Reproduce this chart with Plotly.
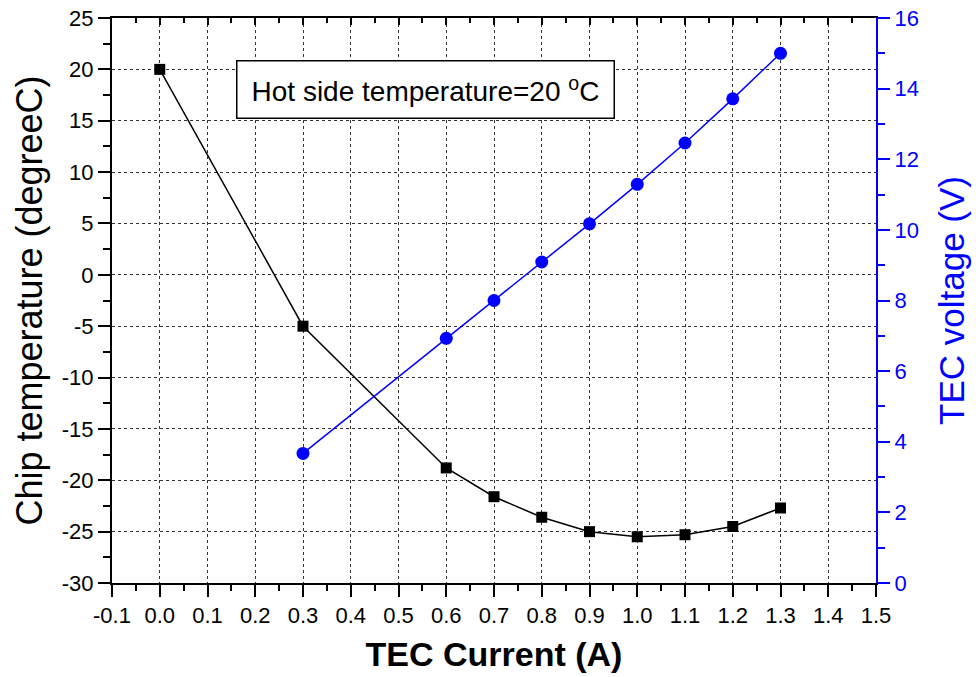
import plotly.graph_objects as go

current_temp = [0.0, 0.3, 0.6, 0.7, 0.8, 0.9, 1.0, 1.1, 1.2, 1.3]
chip_temp = [20.0, -5.0, -18.8, -21.6, -23.6, -25.0, -25.5, -25.3, -24.5, -22.7]

current_volt = [0.3, 0.6, 0.7, 0.8, 0.9, 1.0, 1.1, 1.2, 1.3]
tec_voltage = [3.67, 6.93, 8.0, 9.09, 10.17, 11.29, 12.46, 13.71, 15.0]

x_ticks = [-0.1, 0.0, 0.1, 0.2, 0.3, 0.4, 0.5, 0.6, 0.7, 0.8, 0.9, 1.0, 1.1, 1.2, 1.3, 1.4, 1.5]
x_labels = ["-0.1", "0.0", "0.1", "0.2", "0.3", "0.4", "0.5", "0.6", "0.7", "0.8",
            "0.9", "1.0", "1.1", "1.2", "1.3", "1.4", "1.5"]
y_ticks = [-30, -25, -20, -15, -10, -5, 0, 5, 10, 15, 20, 25]
y_labels = ["-30", "-25", "-20", "-15", "-10", "-5", "0", "5", "10", "15", "20", "25"]
y2_ticks = [0, 2, 4, 6, 8, 10, 12, 14, 16]
y2_labels = ["0", "2", "4", "6", "8", "10", "12", "14", "16"]

FONT = "Liberation Sans, Arial, sans-serif"
BLUE = "#0000ff"

fig = go.Figure()
fig.add_trace(go.Scatter(
    x=current_temp, y=chip_temp, mode="lines+markers",
    line=dict(color="black", width=1.5),
    marker=dict(symbol="square", size=11, color="black"),
    showlegend=False, xaxis="x", yaxis="y"))
fig.add_trace(go.Scatter(
    x=current_volt, y=tec_voltage, mode="lines+markers",
    line=dict(color=BLUE, width=1.5),
    marker=dict(symbol="circle", size=13, color=BLUE),
    showlegend=False, xaxis="x", yaxis="y2"))
# invisible trace to realise the top mirror axis
fig.add_trace(go.Scatter(x=[current_temp[0]], y=[chip_temp[0]], mode="markers",
                         marker=dict(opacity=0), showlegend=False, hoverinfo="skip",
                         xaxis="x3", yaxis="y"))

fig.update_layout(
    width=976, height=677,
    margin=dict(l=112, r=100, t=18, b=94, autoexpand=False),
    paper_bgcolor="white", plot_bgcolor="white",
    font=dict(family=FONT, color="black", size=22),
    xaxis=dict(
        range=[-0.1, 1.5], tickmode="array", tickvals=x_ticks, ticktext=x_labels,
        ticks="outside", ticklen=12, tickwidth=2, tickcolor="black",
        minor=dict(dtick=0.05, tick0=-0.1, ticks="outside", ticklen=6, tickwidth=2,
                   tickcolor="black", showgrid=False),
        showline=True, linecolor="black", linewidth=2,
        showgrid=True, gridcolor="#333333", griddash="dot", gridwidth=1,
        zeroline=False, automargin=False, ticklabeloverflow="allow",
        tickfont=dict(size=22, family=FONT),
        title=dict(text="<b>TEC Current (A)</b>", font=dict(size=34, family=FONT), standoff=15),
    ),
    xaxis3=dict(
        range=[-0.1, 1.5], overlaying="x", side="top", anchor="y",
        tickmode="array", tickvals=x_ticks, showticklabels=False,
        ticks="inside", ticklen=7, tickwidth=2, tickcolor="black",
        minor=dict(dtick=0.05, tick0=-0.1, ticks="inside", ticklen=5, tickwidth=2,
                   tickcolor="black", showgrid=False),
        showline=True, linecolor="black", linewidth=2,
        showgrid=False, zeroline=False, automargin=False,
    ),
    yaxis=dict(
        range=[-30, 25], tickmode="array", tickvals=y_ticks, ticktext=y_labels,
        ticks="outside", ticklen=12, tickwidth=2, tickcolor="black",
        minor=dict(dtick=2.5, tick0=-30, ticks="outside", ticklen=7, tickwidth=2,
                   tickcolor="black", showgrid=False),
        showline=True, linecolor="black", linewidth=2,
        showgrid=True, gridcolor="#333333", griddash="dot", gridwidth=1,
        zeroline=False, automargin=False, ticklabeloverflow="allow",
        tickfont=dict(size=22, family=FONT),
        title=dict(text="Chip temperature (degreeC)", font=dict(size=36, family=FONT), standoff=8),
    ),
    yaxis2=dict(
        range=[0, 16], tickmode="array", tickvals=y2_ticks, ticktext=y2_labels,
        overlaying="y", side="right", anchor="x",
        ticks="outside", ticklen=12, tickwidth=2, tickcolor=BLUE,
        minor=dict(dtick=1, tick0=0, ticks="outside", ticklen=7, tickwidth=2,
                   tickcolor=BLUE, showgrid=False),
        showline=True, linecolor=BLUE, linewidth=2,
        showgrid=False, zeroline=False, automargin=False, ticklabeloverflow="allow",
        tickfont=dict(size=22, family=FONT, color=BLUE),
        title=dict(text="TEC voltage (V)", font=dict(size=35, family=FONT, color=BLUE), standoff=22),
    ),
    annotations=[dict(
        xref="paper", yref="paper", x=0.41, y=0.874, xanchor="center", yanchor="middle",
        text="Hot side temperature=20 <sup>o</sup>C", showarrow=False,
        font=dict(size=28, family=FONT, color="black"),
        bordercolor="black", borderwidth=1.5, borderpad=2,
        bgcolor="white", width=372, height=52, align="center",
    )],
)

fig.write_html("out.html", config={"displayModeBar": False},
               post_script="document.body.style.margin='0';")
